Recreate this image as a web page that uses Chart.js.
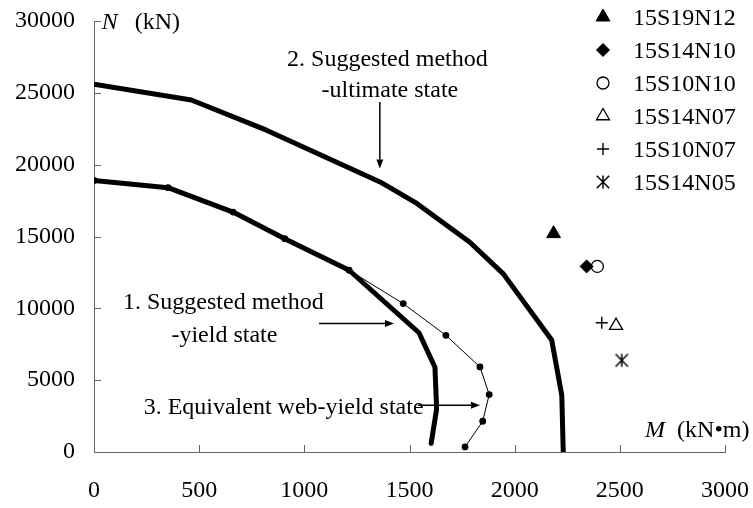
<!DOCTYPE html>
<html>
<head>
<meta charset="utf-8">
<script src="https://cdn.jsdelivr.net/npm/chart.js@4.4.1/dist/chart.umd.min.js"></script>
<style>
  html, body { margin: 0; padding: 0; background: #fff; }
  #wrap { width: 753px; height: 508px; position: relative; }
</style>
</head>
<body>
<div id="wrap"><canvas id="c"></canvas></div>
<script>
// M (kN.m) / N (kN) interaction curves
const yieldM = [0, 352, 661, 907, 1213, 1545, 1621, 1629, 1603];
const yieldN = [18900, 18400, 16700, 14850, 12650, 8300, 5900, 3000, 600];

const ultM = [0, 463, 820, 1360, 1535, 1787, 1946, 2176, 2224, 2231];
const ultN = [25600, 24500, 22400, 18800, 17300, 14600, 12400, 7800, 3950, 0];

const webM = [0, 352, 661, 907, 1213, 1470, 1673, 1835, 1879, 1848, 1764];
const webN = [18900, 18400, 16700, 14850, 12650, 10330, 8120, 5920, 4000, 2140, 350];

// test specimens
const testNames = ['15S19N12', '15S14N10', '15S10N10', '15S14N07', '15S10N07', '15S14N05'];
const testM = [2185, 2342, 2393, 2482, 2414, 2509];
const testN = [15200, 12920, 12920, 8800, 9000, 6380];

// axis ticks
const mTicks = [0, 500, 1000, 1500, 2000, 2500, 3000];
const nTicks = [0, 5000, 10000, 15000, 20000, 25000, 30000];

const FONT = '"Liberation Serif", "Times New Roman", serif';

const pts = (xs, ys) => xs.map((v, i) => ({ x: v, y: ys[i] }));

// asterisk marker: vertical stroke plus an x
function asterisk() {
  const c = document.createElement('canvas');
  const s = 18;
  c.width = s; c.height = s;
  const g = c.getContext('2d');
  g.strokeStyle = '#000';
  g.lineWidth = 1.5;
  const m = s / 2, d = 6.2;
  g.beginPath();
  g.moveTo(m, m - 6.5); g.lineTo(m, m + 6.5);
  g.moveTo(m - d, m - d); g.lineTo(m + d, m + d);
  g.moveTo(m + d, m - d); g.lineTo(m - d, m + d);
  g.stroke();
  return c;
}

const markerStyles = [
  { pointStyle: 'triangle', radius: 8, fill: '#000', borderWidth: 1 },
  { pointStyle: 'rectRot', radius: 6.5, fill: '#000', borderWidth: 1 },
  { pointStyle: 'circle', radius: 6, fill: '#fff', borderWidth: 1.3 },
  { pointStyle: 'triangle', radius: 7.5, fill: '#fff', borderWidth: 1.3 },
  { pointStyle: 'cross', radius: 6, fill: '#000', borderWidth: 1.4 },
  { pointStyle: asterisk(), radius: 7, fill: '#000', borderWidth: 1.5 }
];

// text labels and arrows, placed in data units
const labels = [
  { text: '2. Suggested method', m: 918, n: 26880 },
  { text: '-ultimate state', m: 1082, n: 24690 },
  { text: '1. Suggested method', m: 138, n: 9981 },
  { text: '-yield state', m: 368, n: 7656 },
  { text: '3. Equivalent web-yield state', m: 236, n: 2673 }
];
const arrows = [
  { m1: 1359, n1: 24362, m2: 1359, n2: 19725 },
  { m1: 1070, n1: 8937, m2: 1426, n2: 8937 },
  { m1: 1541, n1: 3250, m2: 1835, n2: 3250 }
];

const datasets = [
  {
    label: '1. Suggested method - yield state',
    data: pts(yieldM, yieldN),
    showLine: true, borderColor: '#000', borderWidth: 5,
    pointRadius: 0, borderCapStyle: 'round', borderJoinStyle: 'round'
  },
  {
    label: '2. Suggested method - ultimate state',
    data: pts(ultM, ultN),
    showLine: true, borderColor: '#000', borderWidth: 5,
    pointRadius: 0, borderCapStyle: 'butt', borderJoinStyle: 'round'
  },
  {
    label: '3. Equivalent web-yield state',
    data: pts(webM, webN),
    showLine: true, borderColor: '#000', borderWidth: 1,
    pointRadius: 3.4, pointBackgroundColor: '#000', pointBorderColor: '#000', pointBorderWidth: 0
  }
];
testNames.forEach((name, i) => {
  const st = markerStyles[i];
  datasets.push({
    label: name,
    data: [{ x: testM[i], y: testN[i] }],
    showLine: false,
    pointStyle: st.pointStyle,
    pointRadius: st.radius,
    pointBackgroundColor: st.fill,
    pointBorderColor: '#000',
    pointBorderWidth: st.borderWidth
  });
});

function drawArrow(ctx, x1, y1, x2, y2) {
  const ang = Math.atan2(y2 - y1, x2 - x1);
  const len = 9, half = 3.5;
  ctx.beginPath();
  ctx.moveTo(x1, y1);
  ctx.lineTo(x2 - Math.cos(ang) * len, y2 - Math.sin(ang) * len);
  ctx.stroke();
  ctx.beginPath();
  ctx.moveTo(x2, y2);
  ctx.lineTo(x2 - Math.cos(ang) * len - Math.sin(ang) * half, y2 - Math.sin(ang) * len + Math.cos(ang) * half);
  ctx.lineTo(x2 - Math.cos(ang) * len + Math.sin(ang) * half, y2 - Math.sin(ang) * len - Math.cos(ang) * half);
  ctx.closePath();
  ctx.fill();
}

const decorations = {
  id: 'decorations',
  afterDraw(chart) {
    const { ctx, chartArea: area, scales: { x, y } } = chart;
    ctx.save();

    // inward tick marks
    ctx.strokeStyle = '#666';
    ctx.lineWidth = 1;
    ctx.beginPath();
    x.ticks.forEach(t => {
      const px = Math.round(x.getPixelForValue(t.value)) + 0.5;
      ctx.moveTo(px, area.bottom);
      ctx.lineTo(px, area.bottom - 7);
    });
    y.ticks.forEach(t => {
      const py = Math.round(y.getPixelForValue(t.value)) + 0.5;
      ctx.moveTo(area.left, py);
      ctx.lineTo(area.left + 7, py);
    });
    ctx.stroke();

    ctx.fillStyle = '#000';
    ctx.strokeStyle = '#000';
    ctx.textBaseline = 'alphabetic';
    ctx.textAlign = 'left';

    // axis titles
    const nx = x.getPixelForValue(37), ny = y.getPixelForValue(29420);
    ctx.font = 'italic 24px ' + FONT;
    ctx.fillText('N', nx, ny);
    ctx.font = '24px ' + FONT;
    ctx.fillText('(kN)', nx + 33, ny);
    const mx = x.getPixelForValue(2620), my = y.getPixelForValue(1044);
    ctx.font = 'italic 24px ' + FONT;
    ctx.fillText('M', mx, my);
    ctx.font = '24px ' + FONT;
    ctx.fillText('(kN\u2022m)', mx + 32, my);

    // curve labels
    labels.forEach(l => ctx.fillText(l.text, x.getPixelForValue(l.m), y.getPixelForValue(l.n)));

    // arrows
    ctx.lineWidth = 1.5;
    arrows.forEach(a => drawArrow(ctx,
      x.getPixelForValue(a.m1), y.getPixelForValue(a.n1),
      x.getPixelForValue(a.m2), y.getPixelForValue(a.n2)));

    // legend for test specimens
    const h = Chart.helpers;
    chart.data.datasets.slice(3).forEach((ds, i) => {
      const base = area.top + 4 + i * 33;
      const cx = area.right - 122, cy = base - 8;
      ctx.fillStyle = ds.pointBackgroundColor;
      ctx.strokeStyle = '#000';
      ctx.lineWidth = ds.pointBorderWidth;
      if (h && h.drawPoint) {
        h.drawPoint(ctx, { pointStyle: ds.pointStyle, radius: ds.pointRadius, rotation: 0, borderWidth: ds.pointBorderWidth }, cx, cy);
      }
      ctx.fillStyle = '#000';
      ctx.font = '24px ' + FONT;
      ctx.fillText(ds.label, area.right - 92, base);
    });

    ctx.restore();
  }
};

new Chart(document.getElementById('c'), {
  type: 'scatter',
  data: { datasets },
  options: {
    responsive: true,
    maintainAspectRatio: false,
    animation: false,
    layout: { padding: { left: 0, right: 28, top: 21, bottom: 0 } },
    plugins: { legend: { display: false }, tooltip: { enabled: false } },
    scales: {
      x: {
        type: 'linear', min: 0, max: 3000,
        afterBuildTicks: s => { s.ticks = mTicks.map(v => ({ value: v })); },
        afterFit: s => { s.height = 56; s.paddingLeft = 0; s.paddingRight = 0; },
        grid: { display: false, drawTicks: false },
        border: { display: true, color: '#666', width: 1 },
        ticks: { color: '#000', padding: 24, maxRotation: 0, callback: v => String(v), font: { family: FONT, size: 24 } }
      },
      y: {
        type: 'linear', min: 0, max: 30000,
        afterBuildTicks: s => { s.ticks = nTicks.map(v => ({ value: v })); },
        afterFit: s => { s.width = 94; s.paddingTop = 0; s.paddingBottom = 0; },
        grid: { display: false, drawTicks: false },
        border: { display: true, color: '#666', width: 1 },
        ticks: { color: '#000', padding: 19, callback: v => String(v), font: { family: FONT, size: 24 } }
      }
    }
  },
  plugins: [decorations]
});
</script>
</body>
</html>
